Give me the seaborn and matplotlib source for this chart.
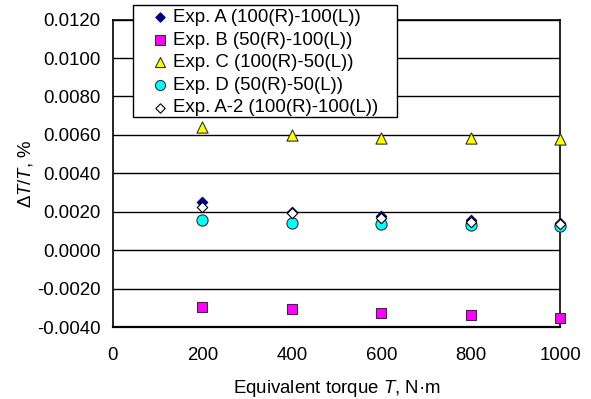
import matplotlib
matplotlib.use("Agg")
import matplotlib.pyplot as plt
import seaborn as sns
import pandas as pd
from matplotlib.ticker import FormatStrFormatter, MultipleLocator
from matplotlib.patches import Rectangle

torque = [200, 400, 600, 800, 1000]
exp_a = [0.00249, 0.00199, 0.00180, 0.00155, 0.00142]
exp_b = [-0.00294, -0.00308, -0.00326, -0.00336, -0.00350]
exp_c = [0.00640, 0.00600, 0.00586, 0.00582, 0.00577]
exp_d = [0.00159, 0.00142, 0.00138, 0.00131, 0.00128]
exp_a2 = [0.00225, 0.00192, 0.00170, 0.00148, 0.00138]

labels = ["Exp. A (100(R)-100(L))", "Exp. B (50(R)-100(L))", "Exp. C (100(R)-50(L))",
          "Exp. D (50(R)-50(L))", "Exp. A-2 (100(R)-100(L))"]
series = [exp_a, exp_b, exp_c, exp_d, exp_a2]

sns.set_style("white")
plt.rcParams['font.family'] = ['Liberation Sans', 'DejaVu Sans']
plt.rcParams['mathtext.fontset'] = 'custom'
plt.rcParams['mathtext.rm'] = 'Liberation Sans'
plt.rcParams['mathtext.it'] = 'Liberation Sans:italic'
plt.rcParams['text.color'] = 'black'
plt.rcParams['axes.labelcolor'] = 'black'
plt.rcParams['xtick.color'] = 'black'
plt.rcParams['ytick.color'] = 'black'

W, H = 591, 399
fig = plt.figure(figsize=(W / 100, H / 100), dpi=100)
ax = fig.add_axes([0.191, 0.180, 0.757, 0.771])

styles = [
    dict(marker='D', color='#000080', edgecolor='#000080', s=28),
    dict(marker='s', color='#FF00FF', edgecolor='#333333', s=60),
    dict(marker='^', color='#FFFF00', edgecolor='#333333', s=65),
    dict(marker='o', color='#00FFFF', edgecolor='#333333', s=65),
    dict(marker='D', color='white', edgecolor='black', s=28),
]

for lab, vals, st in zip(labels, series, styles):
    df = pd.DataFrame({"T": torque, "v": vals})
    sns.scatterplot(data=df, x="T", y="v", ax=ax, marker=st['marker'], color=st['color'],
                    edgecolor=st['edgecolor'], s=st['s'], linewidth=0.8, label=lab,
                    zorder=3, clip_on=False)

FS = 13.4
ax.set_xlim(0, 1000)
ax.set_ylim(-0.004, 0.012)
ax.xaxis.set_major_locator(MultipleLocator(200))
ax.yaxis.set_major_locator(MultipleLocator(0.002))
ax.yaxis.set_major_formatter(FormatStrFormatter('%.4f'))
ax.yaxis.grid(True, color='black', linewidth=1.0)
ax.set_axisbelow(True)
for sp in ax.spines.values():
    sp.set_color('black')
    sp.set_linewidth(1.2)
ax.spines['bottom'].set_linewidth(1.6)
ax.tick_params(axis='x', direction='in', length=4, width=1, pad=14, labelsize=FS, colors='black')
ax.tick_params(axis='y', length=0, pad=9, labelsize=FS, colors='black')
ax.set_xlabel("Equivalent torque $T$, N·m", fontsize=FS, labelpad=10, color='black')
ax.set_ylabel("Δ$T$/$T$, %", fontsize=FS, labelpad=1, color='black')

ax.get_legend().remove()
h, l = ax.get_legend_handles_labels()
# legend box (pixels): left 133, right 397, top 5, bottom 117
box = Rectangle((133 / W, 1 - 117 / H), (397 - 133) / W, (117 - 5) / H,
                transform=fig.transFigure, facecolor='white', edgecolor='black',
                linewidth=1.0, zorder=4)
fig.patches.append(box)
leg = fig.legend(h, l, loc='upper left', bbox_to_anchor=(153 / W, 1 - 9 / H), fontsize=FS,
                 frameon=False, handlelength=0.8, handletextpad=0.3, labelspacing=0.3,
                 borderpad=0.0, borderaxespad=0, markerscale=0.9, labelcolor='black')
leg.set_zorder(5)

fig.savefig("out.png", dpi=100)
